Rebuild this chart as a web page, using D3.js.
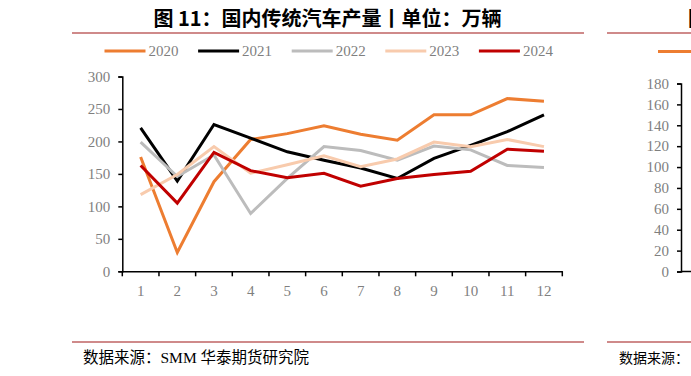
<!DOCTYPE html>
<html>
<head>
<meta charset="utf-8">
<script src="https://cdn.jsdelivr.net/npm/d3@7"></script>
<style>
  html, body { margin: 0; padding: 0; background: #fff; overflow: hidden; }
  svg { display: block; }
  .tick-label { font-family: "Liberation Serif", "Times New Roman", serif; font-size: 15px; fill: #7f7f7f; }
  .legend-label { font-family: "Liberation Serif", "Times New Roman", serif; font-size: 15px; fill: #7f7f7f; }
  .chart-title { font-family: "Noto Sans CJK SC", sans-serif; font-weight: 700; font-size: 20px; fill: #000; }
  .source { font-family: "Liberation Serif", "Noto Sans CJK SC", serif; font-size: 15.5px; fill: #000; }
</style>
</head>
<body>
<div id="chart"></div>
<script>
// months on the x axis
const months = ['1', '2', '3', '4', '5', '6', '7', '8', '9', '10', '11', '12'];
const years = ['2020', '2021', '2022', '2023', '2024'];
const yTicks = [0, 50, 100, 150, 200, 250, 300];

// 国内传统汽车产量, 万辆
const v2020 = [176, 29, 138, 203, 212, 224, 211, 202, 241, 241, 266, 262];
const v2021 = [221, 139, 226, 205, 184, 171, 159, 143, 174, 194, 215, 241];
const v2022 = [199, 146, 179, 89, 143, 192, 186, 171, 193, 187, 163, 160];
const v2023 = [118, 149, 192, 151, 164, 178, 161, 173, 199, 192, 203, 192];
const v2024 = [163, 105, 183, 155, 144, 151, 131, 143, 149, 154, 188, 185];

// right-hand neighbour chart, only its axis is visible
const rightTicks = [0, 20, 40, 60, 80, 100, 120, 140, 160, 180];

const series = [
  { name: '2020', values: v2020, color: '#ed7d31' },
  { name: '2021', values: v2021, color: '#000000' },
  { name: '2022', values: v2022, color: '#bcbcbc' },
  { name: '2023', values: v2023, color: '#f8cbad' },
  { name: '2024', values: v2024, color: '#c00000' },
];

const width = 691, height = 376;
const svg = d3.select('#chart').append('svg')
  .attr('width', width)
  .attr('height', height);

const ruleColor = '#cf8a8a';

// ---- left chart frame ----
svg.append('text')
  .attr('class', 'chart-title')
  .attr('x', 327.5)
  .attr('y', 26)
  .attr('text-anchor', 'middle')
  .text('图 11：国内传统汽车产量丨单位：万辆');

svg.append('rect').attr('x', 72).attr('y', 32).attr('width', 512).attr('height', 2).attr('fill', ruleColor);
svg.append('rect').attr('x', 72).attr('y', 341).attr('width', 512).attr('height', 2).attr('fill', ruleColor);

svg.append('text')
  .attr('class', 'source')
  .attr('x', 83)
  .attr('y', 363)
  .text('数据来源：SMM 华泰期货研究院');

// legend
const legend = svg.append('g').selectAll('g')
  .data(series)
  .join('g')
  .attr('transform', (d, i) => `translate(${104.5 + i * 93.6},51)`);
legend.append('line')
  .attr('x1', 0).attr('x2', 41)
  .attr('stroke', d => d.color)
  .attr('stroke-width', 3);
legend.append('text')
  .attr('class', 'legend-label')
  .attr('x', 44)
  .attr('y', 5)
  .text(d => d.name);

// scales
const x = d3.scaleBand().domain(months).range([122.3, 562.3]);
const y = d3.scaleLinear().domain([0, 300]).range([271.3, 76.5]);

// y axis
const yAxis = svg.append('g')
  .attr('transform', `translate(${x.range()[0]},0)`)
  .call(d3.axisLeft(y).tickValues(yTicks).tickSize(4).tickPadding(8));
yAxis.select('.domain').attr('stroke', '#000').attr('stroke-width', 1.5);
yAxis.selectAll('.tick line').attr('stroke', '#000').attr('stroke-width', 1.5);
yAxis.selectAll('.tick text').attr('class', 'tick-label').attr('font-family', null).attr('font-size', null).attr('fill', null);

// x axis with ticks between categories
const xAxis = svg.append('g')
  .attr('transform', `translate(0,${y(0)})`)
  .call(d3.axisBottom(x).tickSize(0).tickPadding(14));
xAxis.select('.domain').attr('stroke', '#000').attr('stroke-width', 1.5);
xAxis.selectAll('.tick text').attr('class', 'tick-label').attr('font-family', null).attr('font-size', null).attr('fill', null);
xAxis.selectAll('.sep')
  .data(d3.range(months.length + 1))
  .join('line')
  .attr('class', 'sep')
  .attr('x1', i => x.range()[0] + i * x.step())
  .attr('x2', i => x.range()[0] + i * x.step())
  .attr('y1', 0).attr('y2', 5)
  .attr('stroke', '#000').attr('stroke-width', 1.5);

// lines
const line = d3.line()
  .x((d, i) => x(months[i]) + x.bandwidth() / 2)
  .y(d => y(d));

svg.append('g').selectAll('path')
  .data(series)
  .join('path')
  .attr('d', d => line(d.values))
  .attr('fill', 'none')
  .attr('stroke', d => d.color)
  .attr('stroke-width', 3)
  .attr('stroke-linejoin', 'miter');

// ---- right chart, cut off by the page edge ----
svg.append('rect').attr('x', 607).attr('y', 32).attr('width', 100).attr('height', 2).attr('fill', ruleColor);
svg.append('rect').attr('x', 607).attr('y', 341).attr('width', 100).attr('height', 2).attr('fill', ruleColor);
svg.append('text')
  .attr('class', 'chart-title')
  .attr('x', 688)
  .attr('y', 26)
  .text('图 12');
svg.append('line')
  .attr('x1', 658).attr('x2', 699)
  .attr('y1', 51.5).attr('y2', 51.5)
  .attr('stroke', '#ed7d31').attr('stroke-width', 3);
svg.append('text')
  .attr('class', 'source')
  .attr('x', 619)
  .attr('y', 363)
  .style('font-size', '14px')
  .text('数据来源：');

const yR = d3.scaleLinear().domain([0, 180]).range([271.5, 83.5]);
const yAxisR = svg.append('g')
  .attr('transform', 'translate(681,0)')
  .call(d3.axisLeft(yR).tickValues(rightTicks).tickSize(4).tickPadding(8));
yAxisR.select('.domain').attr('stroke', '#000').attr('stroke-width', 1.5);
yAxisR.selectAll('.tick line').attr('stroke', '#000').attr('stroke-width', 1.5);
yAxisR.selectAll('.tick text').attr('class', 'tick-label').attr('font-family', null).attr('font-size', null).attr('fill', null);
svg.append('line')
  .attr('x1', 681).attr('x2', 700)
  .attr('y1', yR(0)).attr('y2', yR(0))
  .attr('stroke', '#000').attr('stroke-width', 1.5);
</script>
</body>
</html>
